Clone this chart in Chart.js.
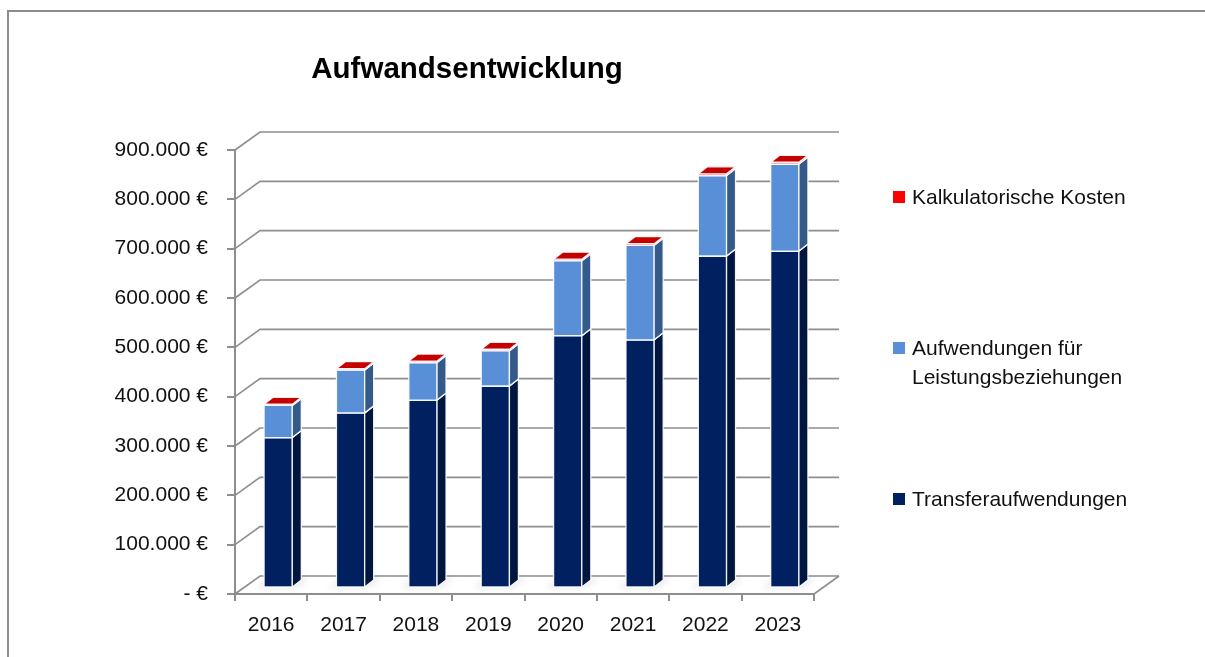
<!DOCTYPE html>
<html lang="de">
<head>
<meta charset="utf-8">
<title>Aufwandsentwicklung</title>
<script src="https://cdn.jsdelivr.net/npm/chart.js@4.4.1/dist/chart.umd.min.js"></script>
<style>
  html, body { margin: 0; padding: 0; background: #fff; }
  #wrap { position: relative; width: 1205px; height: 657px; }
</style>
</head>
<body>
<div id="wrap"><canvas id="chart" width="1205" height="657"></canvas></div>
<script>
const titleText = 'Aufwandsentwicklung';
const years = ['2016', '2017', '2018', '2019', '2020', '2021', '2022', '2023'];
const seriesNames = ['Transferaufwendungen', 'Aufwendungen für Leistungsbeziehungen', 'Kalkulatorische Kosten'];
const transfer = [305000, 355000, 381000, 409500, 511500, 503000, 673000, 683000];
const leistungen = [65000, 87000, 76000, 71500, 152000, 192000, 163000, 176500];
const kalkulatorisch = [2500, 2500, 3000, 3000, 3000, 3000, 3500, 3500];
const yMax = 900000;
const yStep = 100000;

const gridColor = '#8e8e8e';
const textColor = '#111';
const fontFamily = '"Liberation Sans", Arial, sans-serif';

// face colours per series: front / side / top
const faces = [
  { front: '#002060', side: '#00163f', top: '#1c3c7c' },
  { front: '#588fd6', side: '#345a8a', top: '#7ea9e2' },
  { front: '#ff0000', side: '#a80000', top: '#c40000' }
];

// fake perspective: wall depth, bar placement inside it and bar depth
const WALL = { dx: 25, dy: -18 };
const SHIFT = { dx: 7, dy: -6 };
const DEPTH = { dx: 9, dy: -7 };

function euro(v) {
  if (v === 0) return '- €';
  return String(v).replace(/\B(?=(\d{3})+(?!\d))/g, '.') + ' €';
}

function poly(ctx, pts, fill) {
  ctx.beginPath();
  ctx.moveTo(pts[0][0], pts[0][1]);
  for (let i = 1; i < pts.length; i++) ctx.lineTo(pts[i][0], pts[i][1]);
  ctx.closePath();
  ctx.fillStyle = fill;
  ctx.fill();
  ctx.stroke();
}

function drawBox(ctx, bar, col) {
  const L = bar.x - bar.width / 2 + SHIFT.dx;
  const R = bar.x + bar.width / 2 + SHIFT.dx;
  const T = Math.min(bar.y, bar.base) + SHIFT.dy;
  const B = Math.max(bar.y, bar.base) + SHIFT.dy;
  const dx = DEPTH.dx, dy = DEPTH.dy;
  poly(ctx, [[L, T], [R, T], [R, B], [L, B]], col.front);
  poly(ctx, [[R, T], [R + dx, T + dy], [R + dx, B + dy], [R, B]], col.side);
  poly(ctx, [[L, T], [L + dx, T + dy], [R + dx, T + dy], [R, T]], col.top);
}

function wrap(ctx, text, maxW) {
  const words = text.split(' ');
  const out = [];
  let cur = '';
  words.forEach(w => {
    const next = cur ? cur + ' ' + w : w;
    if (cur && ctx.measureText(next).width > maxW) { out.push(cur); cur = w; }
    else cur = next;
  });
  out.push(cur);
  return out;
}

const depth3d = {
  id: 'depth3d',
  beforeDraw(chart) {
    const ctx = chart.ctx;
    ctx.save();
    ctx.strokeStyle = '#8c8c8c';
    ctx.lineWidth = 2;
    ctx.beginPath();
    ctx.moveTo(8, 657);
    ctx.lineTo(8, 11);
    ctx.lineTo(1205, 11);
    ctx.stroke();
    ctx.restore();
  },
  beforeDatasetsDraw(chart) {
    const { ctx, chartArea: a, scales: { y } } = chart;

    // back wall grid and floor
    ctx.save();
    ctx.strokeStyle = gridColor;
    ctx.lineWidth = 1.6;
    y.ticks.forEach(t => {
      const py = y.getPixelForValue(t.value);
      ctx.beginPath();
      ctx.moveTo(a.left, py);
      ctx.lineTo(a.left + WALL.dx, py + WALL.dy);
      ctx.lineTo(a.right + WALL.dx, py + WALL.dy);
      ctx.stroke();
    });
    ctx.beginPath();
    ctx.moveTo(a.right, a.bottom);
    ctx.lineTo(a.right + WALL.dx, a.bottom + WALL.dy);
    ctx.stroke();
    ctx.restore();

    // soft floor shadows
    const base = chart.getDatasetMeta(0).data;
    ctx.save();
    ctx.filter = 'blur(3px)';
    ctx.fillStyle = 'rgba(0,0,0,0.10)';
    base.forEach(bar => {
      const L = bar.x - bar.width / 2 + SHIFT.dx;
      const R = bar.x + bar.width / 2 + SHIFT.dx;
      const B = bar.base + SHIFT.dy;
      ctx.beginPath();
      ctx.moveTo(L - 8, B + 1);
      ctx.lineTo(R + 2, B + 1);
      ctx.lineTo(R + DEPTH.dx + 8, B + DEPTH.dy - 2);
      ctx.lineTo(L + DEPTH.dx - 2, B + DEPTH.dy - 2);
      ctx.closePath();
      ctx.fill();
    });
    ctx.restore();

    // stacked boxes, bottom segment first
    ctx.save();
    ctx.strokeStyle = 'rgba(255,255,255,0.9)';
    ctx.lineWidth = 1.3;
    ctx.lineJoin = 'round';
    chart.data.labels.forEach((_, i) => {
      chart.data.datasets.forEach((ds, d) => {
        drawBox(ctx, chart.getDatasetMeta(d).data[i], faces[d]);
      });
    });
    ctx.restore();
    return false;
  },
  afterDraw(chart) {
    const ctx = chart.ctx;
    ctx.save();
    ctx.fillStyle = '#000';
    ctx.font = 'bold 29.5px ' + fontFamily;
    ctx.textAlign = 'center';
    ctx.textBaseline = 'middle';
    ctx.fillText(titleText, 467, 70);

    // legend, top entry is the last series
    const rows = [197, 348, 499];
    ctx.font = '21px ' + fontFamily;
    ctx.textAlign = 'left';
    const items = chart.data.datasets.slice().reverse();
    items.forEach((ds, k) => {
      const lines = wrap(ctx, ds.label, 250);
      ctx.fillStyle = ds.backgroundColor;
      ctx.fillRect(893, rows[k] - 6, 12, 12);
      ctx.fillStyle = textColor;
      lines.forEach((ln, j) => ctx.fillText(ln, 912, rows[k] + 1 + j * 29));
    });
    ctx.restore();
  }
};

new Chart(document.getElementById('chart'), {
  type: 'bar',
  data: {
    labels: years,
    datasets: [
      { label: seriesNames[0], data: transfer, backgroundColor: faces[0].front },
      { label: seriesNames[1], data: leistungen, backgroundColor: faces[1].front },
      { label: seriesNames[2], data: kalkulatorisch, backgroundColor: faces[2].front }
    ]
  },
  options: {
    responsive: false,
    animation: false,
    events: [],
    categoryPercentage: 1,
    barPercentage: 0.39,
    layout: { padding: { top: 150, right: 391, left: 0, bottom: 0 } },
    plugins: {
      legend: { display: false },
      title: { display: false },
      tooltip: { enabled: false }
    },
    scales: {
      x: {
        stacked: true,
        afterFit: s => { s.height = 63; },
        ticks: { color: textColor, padding: 12, font: { family: fontFamily, size: 21 } },
        grid: { drawOnChartArea: false, offset: true, tickLength: 7, color: gridColor, lineWidth: 2 },
        border: { color: gridColor, width: 2 }
      },
      y: {
        stacked: true,
        min: 0,
        max: yMax,
        afterFit: s => { s.width = 235; },
        ticks: {
          stepSize: yStep,
          padding: 19,
          color: textColor,
          font: { family: fontFamily, size: 21 },
          callback: v => euro(v)
        },
        grid: { drawOnChartArea: false, tickLength: 8, color: gridColor, lineWidth: 2 },
        border: { color: gridColor, width: 2 }
      }
    }
  },
  plugins: [depth3d]
});
</script>
</body>
</html>
